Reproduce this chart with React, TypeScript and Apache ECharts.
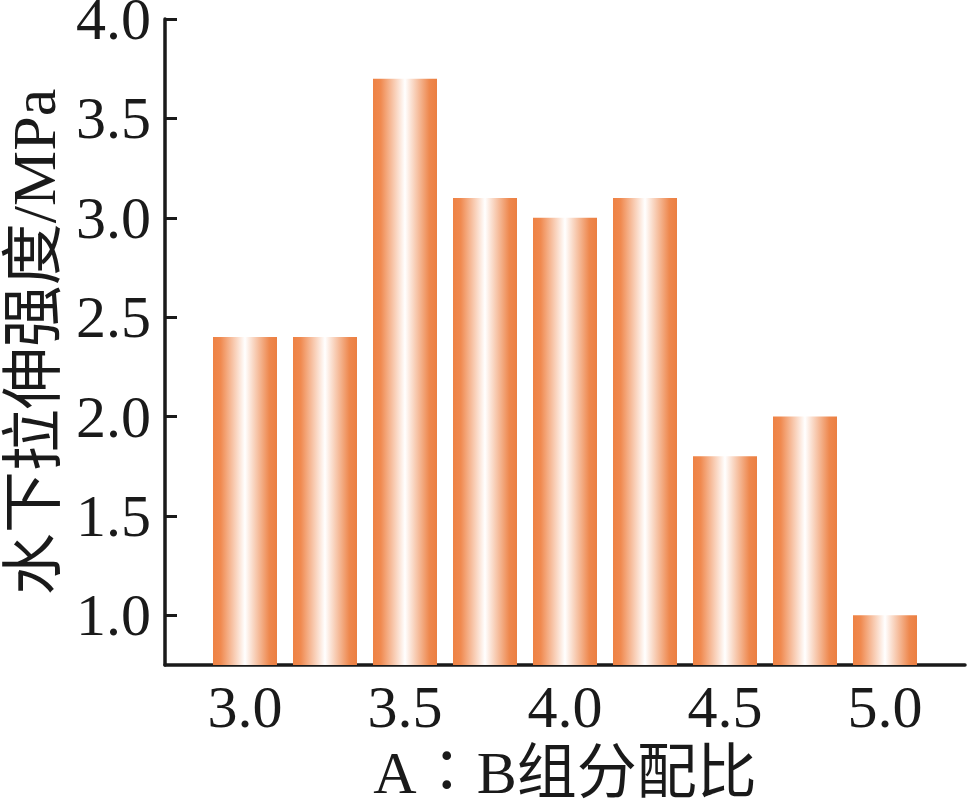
import React, { useEffect, useRef } from "react";
import * as echarts from "echarts";

const ratios = [3.0, 3.25, 3.5, 3.75, 4.0, 4.25, 4.5, 4.75, 5.0];
const strengths = [2.4, 2.4, 3.7, 3.1, 3.0, 3.1, 1.8, 2.0, 1.0];
const xTicks = [3.0, 3.5, 4.0, 4.5, 5.0];
const yTicks = [1.0, 1.5, 2.0, 2.5, 3.0, 3.5, 4.0];
const xTitle = "A∶B组分配比";
const yTitle = "水下拉伸强度/MPa";

const FONT = "'Liberation Serif', 'Times New Roman', 'Noto Sans CJK SC', serif";
const INK = "#1a1a1a";

export default function App() {
  const ref = useRef<HTMLDivElement>(null);
  useEffect(() => {
    const chart = echarts.init(ref.current!, null, { renderer: "svg" });
    const grad = new echarts.graphic.LinearGradient(0, 0, 1, 0, [
      { offset: 0, color: "#EE8244" },
      { offset: 0.12, color: "#F08A50" },
      { offset: 0.5, color: "#FFFFFF" },
      { offset: 0.88, color: "#EE884E" },
      { offset: 1, color: "#EB7F42" },
    ]);
    chart.setOption({
      animation: false,
      grid: { left: 165, top: 19, right: 2, bottom: 143, containLabel: false, outerBoundsMode: "none" },
      xAxis: {
        type: "value",
        min: 2.75,
        max: 5.25,
        splitLine: { show: false },
        axisLine: { lineStyle: { color: INK, width: 3.5 } },
        axisTick: { inside: true, length: 12, lineStyle: { color: INK, width: 3 }, customValues: xTicks },
        axisLabel: {
          customValues: xTicks,
          formatter: (v: number) => v.toFixed(1),
          color: INK,
          fontFamily: FONT,
          fontSize: 60,
          margin: 12,
        },
        name: xTitle,
        nameLocation: "middle",
        nameGap: 78,
        nameTextStyle: { color: INK, fontFamily: FONT, fontSize: 60 },
      },
      yAxis: {
        type: "value",
        min: 0.75,
        max: 4.0,
        splitLine: { show: false },
        axisLine: { show: true, lineStyle: { color: INK, width: 3.5 } },
        axisTick: { show: true, inside: true, length: 12, lineStyle: { color: INK, width: 3 }, customValues: yTicks },
        axisLabel: {
          customValues: yTicks,
          formatter: (v: number) => v.toFixed(1),
          color: INK,
          fontFamily: FONT,
          fontSize: 60,
          margin: 14,
        },
        name: yTitle,
        nameLocation: "middle",
        nameGap: 99,
        nameTextStyle: { color: INK, fontFamily: FONT, fontSize: 62 },
      },
      series: [
        {
          type: "bar",
          data: ratios.map((r, i) => [r, strengths[i]]),
          barWidth: 64,
          itemStyle: { color: grad },
        },
      ],
    });
    return () => chart.dispose();
  }, []);
  return <div ref={ref} style={{ width: 967, height: 808, position: "absolute", left: 0, top: 0 }} />;
}
